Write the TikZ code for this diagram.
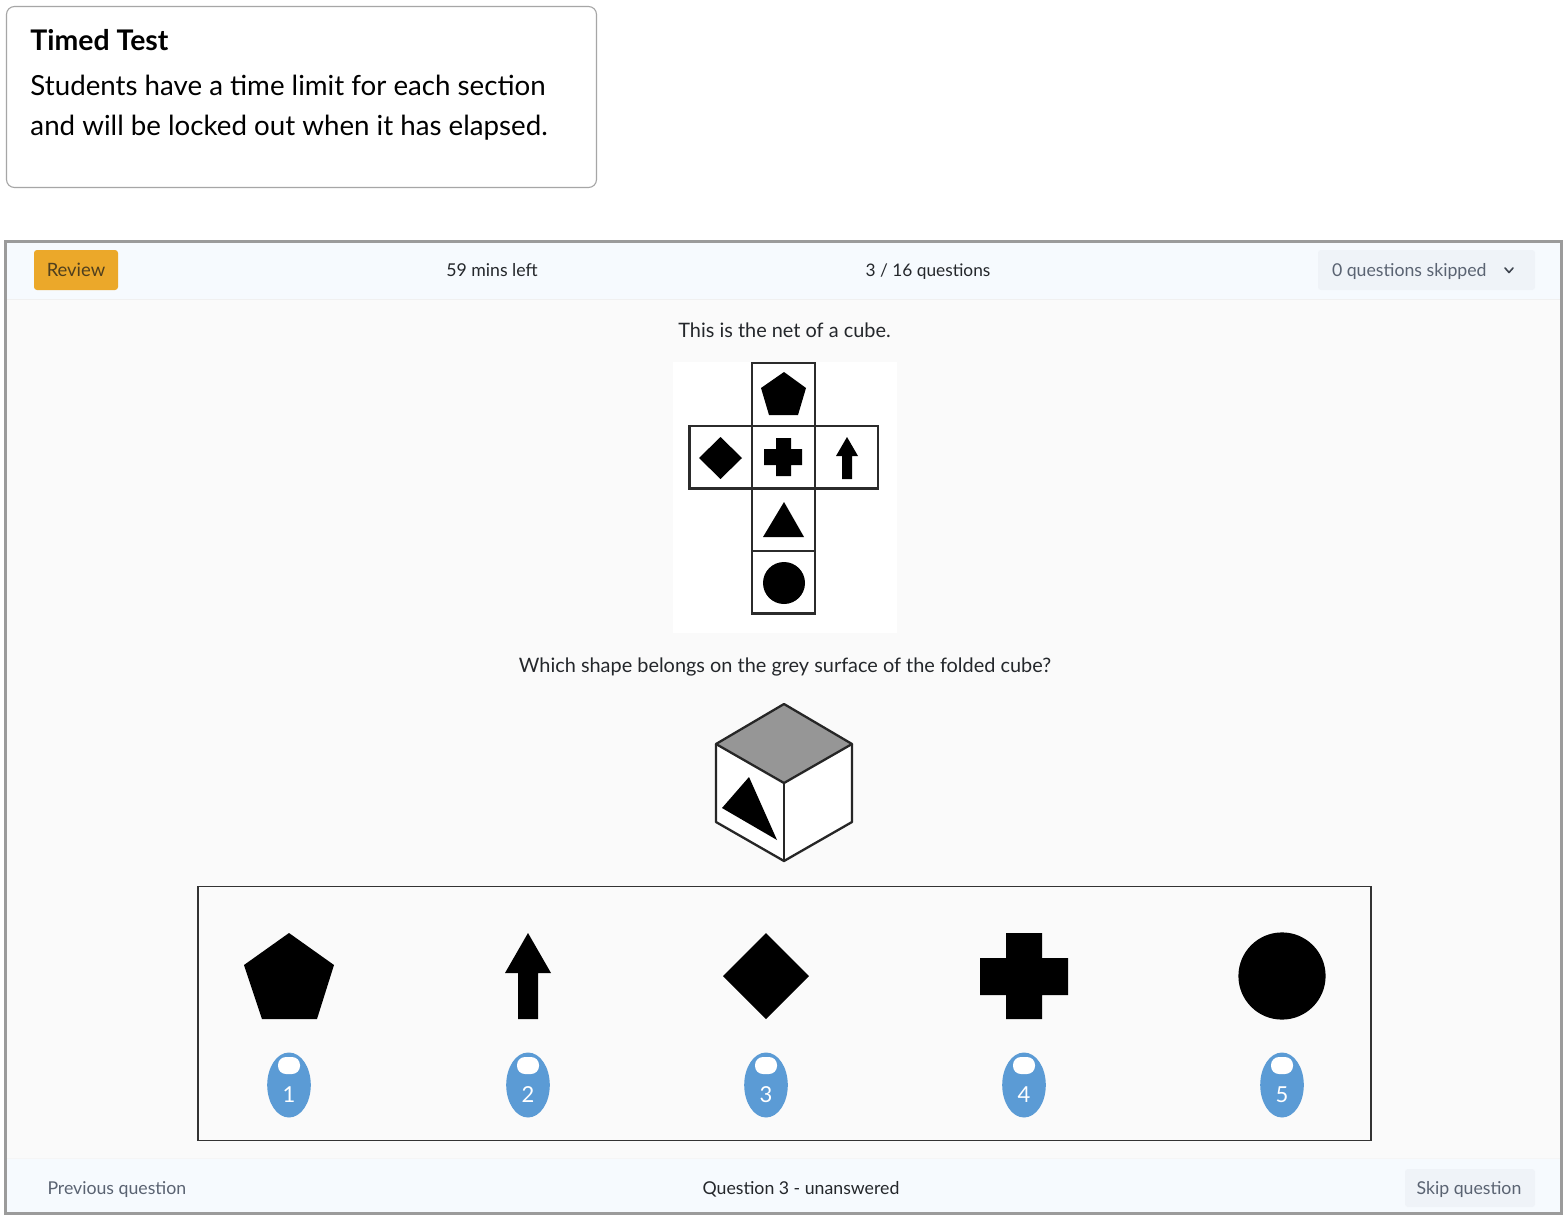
\documentclass[tikz,border=0pt]{standalone}
\usepackage{fontspec}
\setmainfont{Lato}
\definecolor{framegray}{HTML}{9B9B9B}
\definecolor{cardgray}{HTML}{A6A6A6}
\definecolor{barblue}{HTML}{F6FAFE}
\definecolor{pagebg}{HTML}{FAFAFA}
\definecolor{amber}{HTML}{EBA82A}
\definecolor{amberink}{HTML}{4F3F1E}
\definecolor{softbtn}{HTML}{EFF3F8}
\definecolor{softink}{HTML}{5A6372}
\definecolor{bodyink}{HTML}{24272B}
\definecolor{badgeblue}{HTML}{5B9BD5}
\definecolor{cubegray}{HTML}{969696}
\definecolor{netline}{HTML}{2B2B2B}
\newcommand{\fsz}[1]{\fontsize{#1}{#1}\selectfont}
\tikzset{
  x=0.5pt,y=-0.5pt,
  uitext/.style={inner sep=0pt,outer sep=0pt,anchor=base,text=bodyink,font=\fsz{8.85}},
  softtext/.style={uitext,text=softink},
  questiontext/.style={uitext,font=\fsz{9.95}},
  cardtext/.style={inner sep=0pt,outer sep=0pt,anchor=base west,text=black,font=\fsz{13.85}},
  netedge/.style={draw=netline,line width=1.05pt},
  cubeedge/.style={draw=black!85,line width=1.15pt,line join=round},
  solidshape/.style={fill=black,draw=none},
  badgenum/.style={inner sep=0pt,anchor=base,text=white,font=\fsz{11}},
}
\begin{document}
\begin{tikzpicture}
\useasboundingbox (0,0) rectangle (1568,1220);
\fill[white] (0,0) rectangle (1568,1220);
% card
\draw[cardgray,line width=0.55pt,rounded corners=4pt] (6.5,6.5) rectangle (596.5,187.5);
\node[cardtext,font=\fsz{14.2}\bfseries] (cardtitle) at (30.5,51) {Timed Test};
\node[cardtext] (cardline1) at (30.5,96) {Students have a time limit for each section};
\node[cardtext] (cardline2) at (30.5,135) {and will be locked out when it has elapsed.};
% page
\fill[pagebg] (5,241) rectangle (1562,1214);
\fill[barblue] (5,241) rectangle (1562,299);
\fill[barblue] (5,1159) rectangle (1562,1214);
\draw[black!6,line width=0.6pt] (6,299.5) -- (1561,299.5);
\draw[black!4,line width=0.6pt] (6,1158.5) -- (1561,1158.5);
\draw[framegray,line width=1.5pt] (5.5,241.5) rectangle (1561.5,1213.5);
% header
\fill[amber,rounded corners=1.5pt] (34,250) rectangle (118,290);
\node[uitext,text=amberink,font=\fsz{9.2}] (review) at (76,276) {Review};
\node[uitext] (minsleft) at (492,276) {59 mins left};
\node[uitext,font=\fsz{8.65}] (progress) at (928,276) {3 / 16 questions};
\fill[softbtn,rounded corners=1.5pt] (1318,250) rectangle (1535,290);
\node[softtext,anchor=base west] (skipped) at (1332,276) {0 questions skipped};
\draw[softink!70!black,line width=0.8pt,line cap=round,line join=round] (1505,268) -- (1509,272.5) -- (1513,268);
% question
\node[questiontext] (q1) at (784.5,337) {This is the net of a cube.};
\fill[white] (673,362) rectangle (897,633);
\path[netedge] (752,363) rectangle (815,426);
\path[netedge] (689.5,426) rectangle (878,488.5);
\path[netedge] (752,426) -- (752,488.5) (815,426) -- (815,488.5);
\path[netedge] (752,488.5) rectangle (815,551);
\path[netedge] (752,551) rectangle (815,613.5);
\fill[solidshape] (784,372) -- (806,388) -- (798,415) -- (769,415) -- (761,388) -- cycle;
\fill[solidshape] (720.5,437) -- (742,458) -- (720.5,479) -- (699,458) -- cycle;
\fill[solidshape] (776,438) -- (791,438) -- (791,449) -- (802,449) -- (802,465) -- (791,465) -- (791,476) -- (776,476) -- (776,465) -- (764,465) -- (764,449) -- (776,449) -- cycle;
\fill[solidshape] (847,437) -- (858,456) -- (852,456) -- (852,479) -- (842,479) -- (842,456) -- (836,456) -- cycle;
\fill[solidshape] (784,502) -- (804,537) -- (763,537) -- cycle;
\fill[solidshape] (784,583) circle[radius=10.5pt];
\node[questiontext] (q2) at (785,672) {Which shape belongs on the grey surface of the folded cube?};
% cube
\path[fill=white] (716,744) -- (784,783) -- (852,744) -- (852,822) -- (784,861) -- (716,822) -- cycle;
\path[cubeedge,fill=cubegray] (784,704) -- (852,744) -- (784,783) -- (716,744) -- cycle;
\path[cubeedge] (716,744) -- (716,822) -- (784,861) -- (852,822) -- (852,744);
\path[cubeedge] (784,783) -- (784,861);
\fill[solidshape] (749,777) -- (722,808) -- (777,840) -- cycle;
% answers
\draw[black!80,line width=0.65pt] (198,886.5) rectangle (1371,1140.5);
\fill[solidshape] (289,933) -- (334,965) -- (317,1019) -- (262,1019) -- (244,965) -- cycle;
\fill[solidshape] (528,933) -- (551,973) -- (538,973) -- (538,1019) -- (518,1019) -- (518,973) -- (505,973) -- cycle;
\fill[solidshape] (766,933) -- (809,976) -- (766,1019) -- (723,976) -- cycle;
\fill[solidshape] (1006,933) -- (1042,933) -- (1042,958) -- (1068,958) -- (1068,995) -- (1042,995) -- (1042,1019) -- (1006,1019) -- (1006,995) -- (980,995) -- (980,958) -- (1006,958) -- cycle;
\fill[solidshape] (1282,976) circle[radius=21.8pt];
\foreach \cx/\lab in {289/1,528/2,766/3,1024/4,1282/5}{
  \fill[badgeblue] (\cx,1085) ellipse[x radius=10.9pt,y radius=16.25pt];
  \fill[white,rounded corners=4pt] (\cx-11,1057) rectangle (\cx+11,1074);
  \node[badgenum] (b\lab) at (\cx,1102) {\lab};
}
% footer
\node[softtext,anchor=base west] (prev) at (47.5,1194) {Previous question};
\node[uitext] (qstate) at (801,1194) {Question 3 - unanswered};
\fill[softbtn,rounded corners=1.5pt] (1405,1169) rectangle (1535,1207);
\node[softtext] (skipq) at (1469,1194) {Skip question};
\end{tikzpicture}
\end{document}
